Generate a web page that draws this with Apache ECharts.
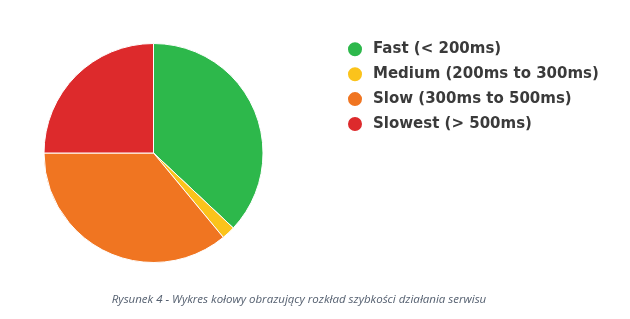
<!DOCTYPE html>
<html>
<head>
<meta charset="utf-8">
<script src="https://cdn.jsdelivr.net/npm/echarts@6/dist/echarts.min.js"></script>
<style>html,body{margin:0;padding:0;background:#fff}#c{width:630px;height:319px}</style>
</head>
<body>
<div id="c"></div>
<script>
const categories = ['Fast (< 200ms)', 'Medium (200ms to 300ms)', 'Slow (300ms to 500ms)', 'Slowest (> 500ms)'];
const values = [37, 2, 36, 25];
const colors = ['#2db84b', '#fbc31b', '#f07521', '#dd2a2c'];
const caption = 'Rysunek 4 - Wykres kołowy obrazujący rozkład szybkości działania serwisu';

const chart = echarts.init(document.getElementById('c'), null, {renderer: 'canvas'});
chart.setOption({
  animation: false,
  backgroundColor: '#fff',
  title: {
    text: caption,
    left: 294,
    top: 288.5,
    textAlign: 'center',
    textStyle: {fontFamily: 'Open Sans', fontStyle: 'italic', fontWeight: 'normal', fontSize: 11.5, color: '#556070'}
  },
  legend: {
    orient: 'vertical',
    left: 346,
    top: 40.3,
    padding: 0,
    icon: 'circle',
    itemWidth: 16,
    itemHeight: 16,
    itemGap: 6.9,
    textStyle: {fontFamily: 'DejaVu Sans', fontWeight: 'bold', fontSize: 15, color: '#3a3a3a', padding: [0, 0, 0, 5]},
    data: categories
  },
  series: [{
    type: 'pie',
    center: [153.5, 153],
    radius: 109.5,
    startAngle: 90,
    clockwise: true,
    label: {show: false},
    labelLine: {show: false},
    emphasis: {disabled: true},
    itemStyle: {borderColor: '#fff', borderWidth: 1},
    data: categories.map((c, i) => ({name: c, value: values[i], itemStyle: {color: colors[i]}}))
  }]
});
</script>
</body>
</html>
